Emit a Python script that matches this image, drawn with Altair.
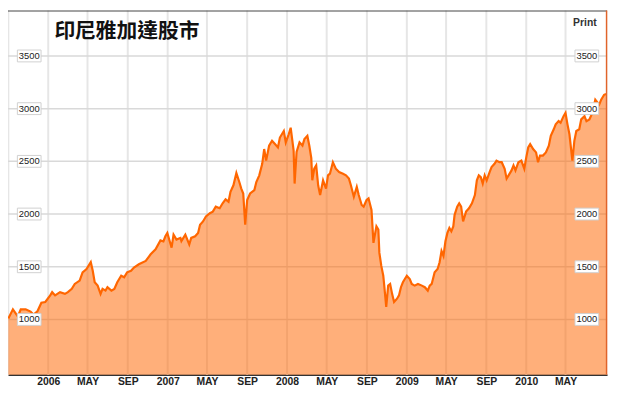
import altair as alt
import pandas as pd

TITLE = "印尼雅加達股市"
PRINT_LABEL = "Print"

DATES_2005 = ["2005-09-01", "2005-09-15", "2005-09-24", "2005-09-30", "2005-10-09", "2005-10-24",
              "2005-11-08", "2005-11-17", "2005-11-29", "2005-12-11", "2005-12-23"]
VALUES_2005 = [1009, 1096, 1056, 1028, 1096, 1096, 1075, 1047, 1078, 1159, 1166]

DATES_2006 = ["2006-01-07", "2006-01-13", "2006-01-22", "2006-02-06", "2006-02-21", "2006-03-02",
              "2006-03-14", "2006-03-23", "2006-04-07", "2006-04-16", "2006-04-28", "2006-05-11",
              "2006-05-17", "2006-05-23", "2006-06-01", "2006-06-10", "2006-06-16", "2006-06-25",
              "2006-07-01", "2006-07-13", "2006-07-22", "2006-07-31", "2006-08-12", "2006-08-21",
              "2006-08-30", "2006-09-11", "2006-09-20", "2006-10-05", "2006-10-26", "2006-11-10",
              "2006-11-25", "2006-12-10", "2006-12-19", "2006-12-25", "2006-12-31"]
VALUES_2006 = [1228, 1259, 1228, 1259, 1243, 1259, 1290, 1337, 1368, 1447, 1478, 1545,
               1462, 1353, 1321, 1243, 1290, 1274, 1306, 1274, 1290, 1353, 1415, 1400,
               1447, 1462, 1493, 1524, 1555, 1618, 1665, 1750, 1740, 1789, 1821]

DATES_2007 = ["2007-01-13", "2007-01-19", "2007-01-28", "2007-02-09", "2007-02-12", "2007-02-24",
              "2007-03-08", "2007-03-14", "2007-03-26", "2007-04-04", "2007-04-10", "2007-04-19",
              "2007-04-28", "2007-05-10", "2007-05-19", "2007-05-28", "2007-06-09", "2007-06-18",
              "2007-06-27", "2007-07-06", "2007-07-12", "2007-07-21", "2007-07-30", "2007-08-08",
              "2007-08-14", "2007-08-20", "2007-08-26", "2007-09-01", "2007-09-10", "2007-09-23",
              "2007-09-29", "2007-10-08", "2007-10-17", "2007-10-23", "2007-10-29", "2007-11-07",
              "2007-11-16", "2007-11-25", "2007-12-04", "2007-12-10", "2007-12-22", "2007-12-28"]
VALUES_2007 = [1681, 1805, 1758, 1774, 1743, 1805, 1712, 1774, 1789, 1821, 1899, 1930,
               1977, 2008, 2023, 2070, 2055, 2102, 2139, 2117, 2211, 2273, 2389, 2304,
               2242, 2195, 1899, 2133, 2195, 2227, 2304, 2367, 2477, 2617, 2507, 2648,
               2695, 2664, 2632, 2726, 2788, 2679]

DATES_2008 = ["2008-01-06", "2008-01-12", "2008-01-21", "2008-01-24", "2008-01-30", "2008-02-08",
              "2008-02-17", "2008-02-23", "2008-03-03", "2008-03-09", "2008-03-15", "2008-03-18",
              "2008-03-24", "2008-03-30", "2008-04-05", "2008-04-11", "2008-04-20", "2008-04-29",
              "2008-05-05", "2008-05-11", "2008-05-20", "2008-05-29", "2008-06-08", "2008-06-20",
              "2008-06-29", "2008-07-08", "2008-07-14", "2008-07-23", "2008-08-01", "2008-08-07",
              "2008-08-16", "2008-08-22", "2008-08-31", "2008-09-06", "2008-09-15", "2008-09-21",
              "2008-09-30", "2008-10-06", "2008-10-09", "2008-10-15", "2008-10-21", "2008-10-24",
              "2008-10-30", "2008-11-05", "2008-11-11", "2008-11-17", "2008-11-23", "2008-12-02",
              "2008-12-08", "2008-12-14", "2008-12-20"]
VALUES_2008 = [2757, 2819, 2601, 2289, 2590, 2680, 2650, 2711, 2742, 2648, 2530, 2320,
               2430, 2461, 2273, 2180, 2320, 2242, 2367, 2383, 2492, 2430, 2398, 2383,
               2367, 2336, 2273, 2164, 2258, 2180, 2086, 2070, 2133, 2149, 2039, 1727,
               1883, 1852, 1634, 1508, 1415, 1321, 1119, 1321, 1337, 1243, 1166, 1197,
               1228, 1306, 1353]

DATES_2009 = ["2009-01-01", "2009-01-10", "2009-01-16", "2009-01-25", "2009-02-04", "2009-02-16",
              "2009-02-25", "2009-03-06", "2009-03-12", "2009-03-18", "2009-03-27", "2009-04-05",
              "2009-04-11", "2009-04-17", "2009-04-23", "2009-04-29", "2009-05-05", "2009-05-11",
              "2009-05-17", "2009-05-23", "2009-05-27", "2009-06-04", "2009-06-10", "2009-06-16",
              "2009-06-22", "2009-07-01", "2009-07-10", "2009-07-19", "2009-07-28", "2009-08-03",
              "2009-08-09", "2009-08-15", "2009-08-21", "2009-08-27", "2009-09-02", "2009-09-11",
              "2009-09-17", "2009-09-26", "2009-10-02", "2009-10-11", "2009-10-18", "2009-10-27",
              "2009-11-02", "2009-11-08", "2009-11-17", "2009-11-23", "2009-11-29", "2009-12-08",
              "2009-12-17", "2009-12-26"]
VALUES_2009 = [1415, 1384, 1337, 1321, 1337, 1321, 1306, 1274, 1321, 1337, 1447, 1478,
               1540, 1649, 1602, 1743, 1821, 1868, 1836, 1883, 1993, 2070, 2102, 2070,
               1930, 2023, 2055, 2102, 2180, 2320, 2367, 2351, 2289, 2367, 2320, 2398,
               2445, 2477, 2507, 2492, 2492, 2430, 2336, 2367, 2414, 2461, 2414, 2492,
               2507, 2430]

DATES_2010 = ["2010-01-01", "2010-01-07", "2010-01-13", "2010-01-22", "2010-01-31", "2010-02-06",
              "2010-02-12", "2010-02-21", "2010-03-02", "2010-03-11", "2010-03-17", "2010-03-26",
              "2010-04-01", "2010-04-10", "2010-04-16", "2010-04-25", "2010-05-01", "2010-05-07",
              "2010-05-13", "2010-05-22", "2010-05-28", "2010-06-03", "2010-06-12", "2010-06-18",
              "2010-06-28", "2010-07-04", "2010-07-13", "2010-07-22", "2010-07-31", "2010-08-12",
              "2010-08-18", "2010-08-27", "2010-09-02"]
VALUES_2010 = [2538, 2632, 2664, 2617, 2585, 2492, 2555, 2555, 2585, 2648, 2742, 2804,
               2851, 2882, 2866, 2929, 2960, 2851, 2757, 2507, 2695, 2788, 2804, 2898,
               2929, 2882, 2898, 2960, 3085, 3038, 3085, 3132, 3140]

X_TICKS = ["2005-09-01", "2006-01-01", "2006-05-01", "2006-09-01", "2007-01-01", "2007-05-01",
           "2007-09-01", "2008-01-01", "2008-05-01", "2008-09-01", "2009-01-01", "2009-05-01",
           "2009-09-01", "2010-01-01", "2010-05-01"]
X_TICK_LABELS = ["", "2006", "MAY", "SEP", "2007", "MAY", "SEP", "2008", "MAY", "SEP",
                 "2009", "MAY", "SEP", "2010", "MAY"]
X_DOMAIN = ["2005-08-31", "2010-09-05"]

Y_TICKS = [1000, 1500, 2000, 2500, 3000, 3500]
Y_TICK_LABELS = ["1000", "1500", "2000", "2500", "3000", "3500"]
Y_DOMAIN = [476, 3931]


def ms(s):
    return int(pd.Timestamp(s, tz="UTC").timestamp() * 1000)


dates = DATES_2005 + DATES_2006 + DATES_2007 + DATES_2008 + DATES_2009 + DATES_2010
values = VALUES_2005 + VALUES_2006 + VALUES_2007 + VALUES_2008 + VALUES_2009 + VALUES_2010
df = pd.DataFrame({"date": dates, "value": values})
ydf = pd.DataFrame({"v": Y_TICKS, "lab": Y_TICK_LABELS})
xdf = pd.DataFrame({"date": X_TICKS, "lab": X_TICK_LABELS})

tick_ms = [ms(d) for d in X_TICKS]
expr = "''"
for t, lab in reversed(list(zip(tick_ms, X_TICK_LABELS))):
    expr = f"toNumber(datum.value) == {t} ? '{lab}' : ({expr})"

W, H = 607, 369

x_scale = alt.Scale(type="utc", domain=[ms(d) for d in X_DOMAIN], nice=False)
y_scale = alt.Scale(domain=Y_DOMAIN, nice=False, zero=False)

x_axis = alt.Axis(values=tick_ms, labelExpr=expr, grid=False,
                  ticks=False, domain=True, domainColor="#333333", domainWidth=1.5,
                  labelFont="Liberation Sans Narrow, Arial Narrow, Liberation Sans", labelFontSize=10.5,
                  labelFontWeight="bold", labelColor="#222222", labelPadding=2,
                  labelFlush=False, labelOverlap=False, labelBound=False)
x_enc = alt.X("date:T", scale=x_scale, title=None, axis=x_axis)
y_enc = alt.Y("value:Q", scale=y_scale, title=None, axis=None)

vgrid = alt.Chart(xdf).mark_rule(color="#e6e6e6", strokeWidth=2).encode(x=x_enc)
hgrid = alt.Chart(ydf).mark_rule(color="#d9d9d9", strokeWidth=1.5).encode(
    y=alt.Y("v:Q", scale=y_scale, title=None, axis=None))

area = alt.Chart(df).mark_area(color="#FF6600", opacity=0.52, clip=True).encode(
    x=x_enc, y=y_enc, y2=alt.value(H))
line = alt.Chart(df).mark_line(color="#FF6600", strokeWidth=2.2).encode(x=x_enc, y=y_enc)

BOX = "M-2,-1L2,-1L2,1L-2,1Z"
box_y = alt.Y("v:Q", scale=y_scale, title=None, axis=None)


def label_layer(xpos):
    boxes = alt.Chart(ydf).mark_point(shape=BOX, size=144, filled=True, fill="white",
                                      stroke="#d0d0d0", strokeWidth=1, opacity=1).encode(
        x=alt.value(xpos), y=box_y)
    texts = alt.Chart(ydf).mark_text(font="Liberation Sans", fontSize=9.5, color="#222222",
                                     align="center", baseline="middle").encode(
        x=alt.value(xpos), y=box_y, text="lab:N")
    return boxes + texts


left_labels = label_layer(21.5)
right_labels = label_layer(586.5)

title = alt.Chart(pd.DataFrame({"t": [TITLE]})).mark_text(
    font="Noto Sans CJK TC", fontSize=21, fontWeight="bold", color="#111111",
    align="left", baseline="middle"
).encode(text="t:N", x=alt.value(47), y=alt.value(22))

print_txt = alt.Chart(pd.DataFrame({"t": [PRINT_LABEL]})).mark_text(
    font="Liberation Sans", fontSize=10.5, fontWeight="bold", color="#333333",
    align="center", baseline="middle"
).encode(text="t:N", x=alt.value(584.5), y=alt.value(12.5))

top_rule = alt.Chart(pd.DataFrame({"a": [0]})).mark_rule(color="#444444", strokeWidth=1).encode(
    x=alt.value(0), x2=alt.value(W), y=alt.value(0.5))
right_rule = alt.Chart(pd.DataFrame({"a": [0]})).mark_rule(color="#E0642A", strokeWidth=1.5).encode(
    x=alt.value(W - 0.5), y=alt.value(0), y2=alt.value(H))

chart = alt.layer(
    vgrid, hgrid, area, line, left_labels, right_labels, title, print_txt, top_rule, right_rule
).properties(
    width=W, height=H,
    padding={"left": 0, "top": 0, "right": 5, "bottom": 16},
    autosize=alt.AutoSizeParams(type="none"),
    background="white",
).configure_view(stroke=None)

chart.save("out.html", embed_options={"renderer": "svg", "actions": False})
